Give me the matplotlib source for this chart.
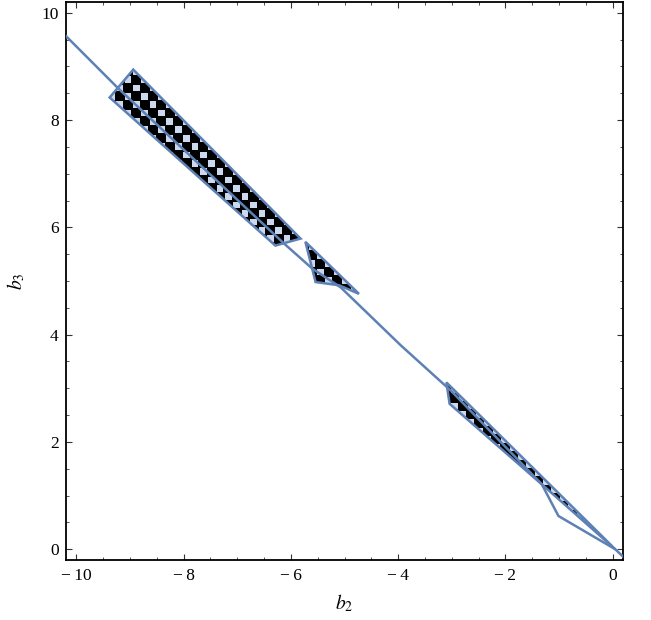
# Region plot in the (b2, b3) plane, checkerboard filled regions

import numpy as np
import matplotlib.pyplot as plt
from matplotlib.patches import Polygon
from matplotlib.ticker import MultipleLocator, FuncFormatter

plt.rcParams['font.family'] = ['Liberation Serif', 'DejaVu Serif']
plt.rcParams['mathtext.fontset'] = 'stix'

# Region outlines
region1_b2 = [-9.38, -8.94, -5.82, -6.29]
region1_b3 = [8.42, 8.94, 5.79, 5.66]
region2_b2 = [-5.73, -5.54, -5.10, -4.73]
region2_b3 = [5.73, 4.98, 4.92, 4.76]
region3_b2 = [-3.10, -3.04, -1.32, 0.05]
region3_b3 = [3.11, 2.71, 1.21, 0.00]

# Boundary curve
curve_b2 = [-10.2, -9.22, -6.13, -5.60, -5.07, -3.95, -3.01, -1.32, -1.01, 0.05, 0.25]
curve_b3 = [9.57, 8.59, 5.70, 5.23, 4.88, 3.80, 2.95, 1.21, 0.62, 0.00, -0.19]

blue = '#5e81b5'
light = np.array([0.80, 0.85, 0.93])

xlim = (-10.2, 0.2)
ylim = (-0.2, 10.2)

fig = plt.figure(figsize=(6.51, 6.20), dpi=100)
ax = fig.add_axes([0.1009, 0.0968, 0.8566, 0.9])

# checkerboard texture, light squares a bit smaller than the cell
cell = 0.156
sub = 5
n = int((xlim[1] - xlim[0]) / cell * sub) + 1
idx = np.arange(n)
ci, wi = idx // sub, idx % sub
on = (((ci[:, None] + ci[None, :]) % 2) == 0) & (wi[:, None] < 4) & (wi[None, :] < 4)
tex = np.zeros((n, n, 3))
tex[on] = light
ext = (xlim[0], xlim[0] + n / sub * cell, ylim[0], ylim[0] + n / sub * cell)

for bx, by in [(region1_b2, region1_b3), (region2_b2, region2_b3), (region3_b2, region3_b3)]:
    poly = Polygon(np.column_stack([bx, by]), closed=True, facecolor='none',
                   edgecolor=blue, linewidth=1.8, joinstyle='miter', zorder=4)
    ax.add_patch(poly)
    im = ax.imshow(tex, extent=ext, origin='lower', interpolation='nearest',
                   aspect='auto', zorder=2)
    im.set_clip_path(poly)

ax.plot(curve_b2, curve_b3, color=blue, linewidth=1.8, zorder=3)

ax.set_xlim(*xlim)
ax.set_ylim(*ylim)

def fmt(v, pos):
    if abs(v) < 1e-9:
        return '0'
    if v < 0:
        return '\u2212\u2009' + f'{abs(v):g}'
    return f'{v:g}'

ax.xaxis.set_major_locator(MultipleLocator(2))
ax.xaxis.set_minor_locator(MultipleLocator(0.5))
ax.yaxis.set_major_locator(MultipleLocator(2))
ax.yaxis.set_minor_locator(MultipleLocator(0.5))
ax.xaxis.set_major_formatter(FuncFormatter(fmt))
ax.yaxis.set_major_formatter(FuncFormatter(fmt))

ax.tick_params(which='both', direction='in', top=True, right=True, color='#333333')
ax.tick_params(which='major', length=4, width=0.8, labelsize=12.5, pad=6)
ax.tick_params(which='minor', length=2, width=0.6)
ax.tick_params(axis='y', which='major', pad=5)

for s in ax.spines.values():
    s.set_linewidth(1.3)
    s.set_color('black')

ax.set_xlabel(r'$b_2$', fontsize=14, labelpad=6)
ax.set_ylabel(r'$b_3$', fontsize=14, labelpad=10)

plt.savefig('out.png', dpi=100)
